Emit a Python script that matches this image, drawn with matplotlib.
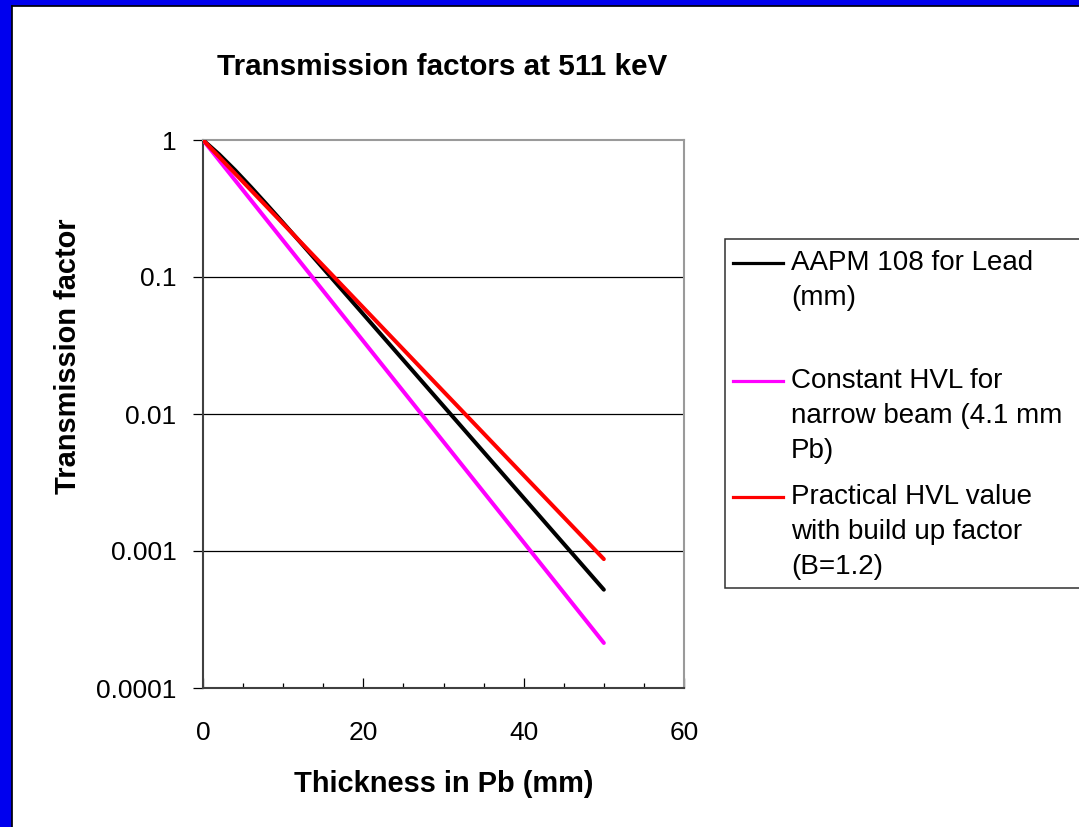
import numpy as np
import matplotlib
matplotlib.use("Agg")
import matplotlib.pyplot as plt
from matplotlib.patches import Rectangle
from matplotlib.lines import Line2D
from matplotlib.ticker import FixedLocator, NullLocator, MultipleLocator

plt.rcParams["font.family"] = ["Liberation Sans", "DejaVu Sans"]

W, H = 1079, 827
BLUE = "#0000ee"

# thickness of lead (mm)
thickness = [0, 2, 4, 6, 8, 10, 12, 14, 16, 18, 20, 22, 24, 26, 28, 30,
             32, 34, 36, 38, 40, 42, 44, 46, 48, 50]

aapm_108 = [1.0, 0.7874, 0.6023, 0.4523, 0.3362, 0.2485, 0.1831, 0.1347, 0.09904,
            0.07278, 0.05347, 0.03927, 0.02884, 0.02119, 0.01556, 0.01143,
            0.008395, 0.006165, 0.004528, 0.003325, 0.002442, 0.001794,
            0.001317, 0.0009676, 0.0007107, 0.000522]

narrow_beam = [1.0, 0.7132, 0.5085, 0.3626, 0.2586, 0.1844, 0.1315, 0.09378, 0.06687,
               0.04769, 0.03401, 0.02425, 0.01729, 0.01233, 0.008794, 0.006271,
               0.004472, 0.003189, 0.002274, 0.001622, 0.001157, 0.0008247,
               0.0005881, 0.0004194, 0.000299, 0.0002132]

practical_hvl = [1.0, 0.7545, 0.5692, 0.4295, 0.324, 0.2444, 0.1844, 0.1391, 0.105,
                 0.07922, 0.05976, 0.04508, 0.03401, 0.02566, 0.01936, 0.0146,
                 0.01102, 0.008313, 0.006272, 0.004731, 0.003569, 0.002693,
                 0.002032, 0.001533, 0.001157, 0.0008728]

series = [
    (aapm_108, "black", ["AAPM 108 for Lead", "(mm)"]),
    (narrow_beam, "#ff00ff", ["Constant HVL for", "narrow beam (4.1 mm", "Pb)"]),
    (practical_hvl, "#ff0000", ["Practical HVL value", "with build up factor", "(B=1.2)"]),
]

y_ticks = [1e-4, 1e-3, 1e-2, 1e-1, 1]
y_labels = ["0.0001", "0.001", "0.01", "0.1", "1"]
x_ticks = [0, 20, 40, 60]


def px(x, y):
    # pixel position (top-left origin) -> figure fraction
    return x / W, 1 - y / H


fig = plt.figure(figsize=(W / 100, H / 100), dpi=100)
fig.patch.set_facecolor("white")

# blue slide frame on left and top
fig.patches.append(Rectangle((0, 0), 11 / W, 1, transform=fig.transFigure, color=BLUE, zorder=0))
fig.patches.append(Rectangle((0, 1 - 5 / H), 1, 5 / H, transform=fig.transFigure, color=BLUE, zorder=0))
fig.add_artist(Line2D([11.5 / W, 11.5 / W], [0, 1 - 5.5 / H], color="black", lw=1.2))
fig.add_artist(Line2D([11.5 / W, 1], [1 - 5.5 / H, 1 - 5.5 / H], color="black", lw=1.2))

ax = fig.add_axes([203 / W, 1 - 688 / H, 481 / W, 548 / H])
ax.set_yscale("log")
ax.set_ylim(1e-4, 1)
ax.set_xlim(0, 60)

for yv in y_ticks[1:-1]:
    ax.axhline(yv, color="black", lw=0.9, zorder=1)

for vals, col, _ in series:
    ax.plot(thickness, vals, color=col, lw=2.9, solid_capstyle="round", zorder=3)

ax.yaxis.set_major_locator(FixedLocator(y_ticks))
ax.yaxis.set_minor_locator(NullLocator())
ax.set_yticklabels(y_labels)
ax.set_xticks(x_ticks)
ax.xaxis.set_minor_locator(MultipleLocator(5))
ax.tick_params(axis="y", which="major", direction="out", length=7.2, width=0.9,
               pad=12, labelsize=19)
ax.tick_params(axis="x", which="major", direction="in", length=7, width=0.9,
               pad=24, labelsize=19)
ax.tick_params(axis="x", which="minor", direction="in", length=3.8, width=0.9)

for s in ["left", "bottom"]:
    ax.spines[s].set_color("#404040"); ax.spines[s].set_linewidth(1.5)
for s in ["top", "right"]:
    ax.spines[s].set_color("#9a9a9a"); ax.spines[s].set_linewidth(1.5)

fig.text(*px(442, 67), "Transmission factors at 511 keV", fontsize=21.3,
         weight="bold", ha="center", va="center")
fig.text(*px(444, 784), "Thickness in Pb (mm)", fontsize=20.9, weight="bold",
         ha="center", va="center")
fig.text(*px(68, 356), "Transmission factor", fontsize=20.9, weight="bold",
         ha="center", va="center", rotation=90)

# legend box, clipped at the right edge like the slide
fig.patches.append(Rectangle(px(725, 588), 400 / W, (588 - 239) / H, transform=fig.transFigure,
                             facecolor="white", edgecolor="#303030", lw=1.1, zorder=2))
first_rows = [263, 381, 497]
for (vals, col, lines), y0 in zip(series, first_rows):
    fig.add_artist(Line2D([733 / W, 783 / W], [1 - y0 / H] * 2, color=col, lw=2.3, zorder=3))
    for i, t in enumerate(lines):
        fig.text(*px(791, y0 + 35 * i), t, fontsize=20, ha="left", va="center", zorder=3)

fig.savefig("out.png", dpi=100)
